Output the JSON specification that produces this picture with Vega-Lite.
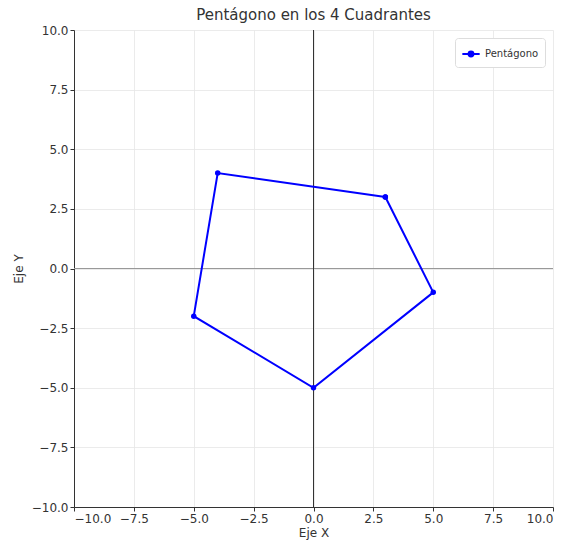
{
  "$schema": "https://vega.github.io/schema/vega-lite/v6.json",
  "autosize": "none",
  "width": 479,
  "height": 477,
  "padding": {"left": 74, "top": 30, "right": 16, "bottom": 35},
  "background": "white",
  "config": {
    "font": "DejaVu Sans",
    "view": {"stroke": null},
    "axis": {
      "labelFont": "DejaVu Sans",
      "titleFont": "DejaVu Sans",
      "labelFontSize": 12,
      "titleFontSize": 12,
      "titleFontWeight": "normal",
      "labelColor": "#333333",
      "titleColor": "#333333",
      "domainColor": "#333333",
      "tickColor": "#333333",
      "tickSize": 4,
      "gridColor": "#e6e6e6",
      "gridWidth": 0.8
    }
  },
  "title": {
    "text": "Pentágono en los 4 Cuadrantes",
    "fontSize": 15,
    "fontWeight": "normal",
    "color": "#333333",
    "font": "DejaVu Sans",
    "offset": 1
  },
  "datasets": {
    "poly": [
      {"x": 3, "y": 3, "o": 0, "serie": "Pentágono"},
      {"x": 5, "y": -1, "o": 1, "serie": "Pentágono"},
      {"x": 0, "y": -5, "o": 2, "serie": "Pentágono"},
      {"x": -5, "y": -2, "o": 3, "serie": "Pentágono"},
      {"x": -4, "y": 4, "o": 4, "serie": "Pentágono"},
      {"x": 3, "y": 3, "o": 5, "serie": "Pentágono"}
    ]
  },
  "layer": [
    {
      "data": {"values": [{"v": 0}]},
      "mark": {"type": "rule", "color": "#999999", "strokeWidth": 1.2},
      "encoding": {"y": {"field": "v", "type": "quantitative", "scale": {"domain": [-10, 10]}}}
    },
    {
      "data": {"values": [{"v": 0}]},
      "mark": {"type": "rule", "color": "#333333", "strokeWidth": 1},
      "encoding": {"x": {"field": "v", "type": "quantitative", "scale": {"domain": [-10, 10]}}}
    },
    {
      "data": {"name": "poly"},
      "mark": {"type": "line", "strokeWidth": 2, "point": {"filled": true, "size": 30}},
      "encoding": {
        "x": {
          "field": "x", "type": "quantitative",
          "scale": {"domain": [-10, 10], "nice": false, "zero": false},
          "axis": {"title": "Eje X", "values": [-10, -7.5, -5, -2.5, 0, 2.5, 5, 7.5, 10], "format": ".1f", "grid": true, "titlePadding": 3}
        },
        "y": {
          "field": "y", "type": "quantitative",
          "scale": {"domain": [-10, 10], "nice": false, "zero": false},
          "axis": {"title": "Eje Y", "values": [-10, -7.5, -5, -2.5, 0, 2.5, 5, 7.5, 10], "format": ".1f", "grid": true, "titlePadding": 6}
        },
        "order": {"field": "o", "type": "quantitative"},
        "color": {
          "field": "serie", "type": "nominal",
          "scale": {"range": ["#0000ff"]},
          "legend": {
            "title": null,
            "orient": "top-right",
            "labelFontSize": 10,
            "labelColor": "#333333",
            "strokeColor": "#dddddd",
            "fillColor": "white",
            "padding": 6,
            "cornerRadius": 3,
            "symbolType": "M-1,0H1M0.28,0A0.28,0.28,0,1,1,-0.28,0A0.28,0.28,0,1,1,0.28,0Z",
            "symbolFillColor": "#0000ff",
            "symbolSize": 300,
            "symbolStrokeWidth": 2,
            "offset": 8
          }
        }
      }
    }
  ]
}
